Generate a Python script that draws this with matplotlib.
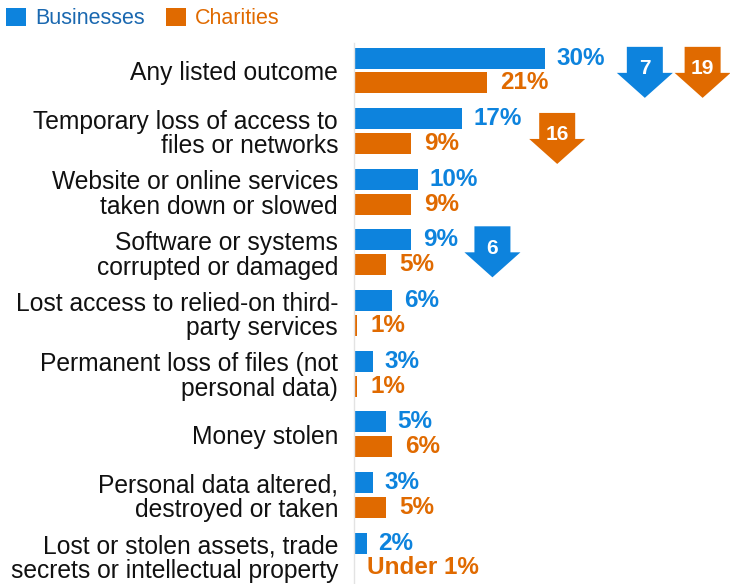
import matplotlib
matplotlib.use("Agg")
import matplotlib.pyplot as plt
from matplotlib.patches import Polygon
import numpy as np

categories = [
    "Any listed outcome",
    "Temporary loss of access to\nfiles or networks",
    "Website or online services\ntaken down or slowed",
    "Software or systems\ncorrupted or damaged",
    "Lost access to relied-on third-\nparty services",
    "Permanent loss of files (not\npersonal data)",
    "Money stolen",
    "Personal data altered,\ndestroyed or taken",
    "Lost or stolen assets, trade\nsecrets or intellectual property",
]
businesses = [30, 17, 10, 9, 6, 3, 5, 3, 2]
charities = [21, 9, 9, 5, 0.5, 0.5, 6, 5, 0]
business_labels = ["30%", "17%", "10%", "9%", "6%", "3%", "5%", "3%", "2%"]
charity_labels = ["21%", "9%", "9%", "5%", "1%", "1%", "6%", "5%", "Under 1%"]

# change markers: (row index, series, number, x position in %, top offset in rows)
arrows = [
    (0, "Businesses", "7", 45.8, -0.39),
    (0, "Charities", "19", 54.9, -0.39),
    (1, "Charities", "16", 32.0, -0.30),
    (3, "Businesses", "6", 21.8, -0.43),
]

BLUE = "#0D83DD"
ORANGE = "#E06A00"
LEG_BLUE = "#1A68B0"
FONT = "Liberation Sans"

fig = plt.figure(figsize=(7.3, 5.84), dpi=100)
ax = fig.add_axes([354 / 730, 0, 1 - 354 / 730, 544 / 584])

y = np.arange(len(categories))
off = 0.205
h = 0.345
bb = ax.barh(y - off, businesses, height=h, color=BLUE, label="Businesses")
bc = ax.barh(y + off, charities, height=h, color=ORANGE, label="Charities")

px_per_unit = 6.35
ax.set_xlim(0, (730 - 354) / px_per_unit)
ax.set_ylim(8.47, -0.503)

for i in range(len(categories)):
    ax.annotate(business_labels[i], (businesses[i], y[i] - off), xytext=(8.5, 0),
                textcoords="offset points", va="center", ha="left",
                color=BLUE, fontsize=17.5, fontweight="bold", family=FONT)
    ax.annotate(charity_labels[i], (charities[i], y[i] + off), xytext=(9.5, 0),
                textcoords="offset points", va="center", ha="left",
                color=ORANGE, fontsize=17.5, fontweight="bold", family=FONT)

shaft_hw = 18 / px_per_unit
head_hw = 28 / px_per_unit
shaft_h = 26 / 60.6
total_h = 51 / 60.6
for row, series, num, xc, top in arrows:
    col = BLUE if series == "Businesses" else ORANGE
    t = row + top
    verts = [
        (xc - shaft_hw, t), (xc + shaft_hw, t), (xc + shaft_hw, t + shaft_h),
        (xc + head_hw, t + shaft_h), (xc, t + total_h), (xc - head_hw, t + shaft_h),
        (xc - shaft_hw, t + shaft_h),
    ]
    ax.add_patch(Polygon(verts, closed=True, facecolor=col, edgecolor="none", clip_on=False))
    ax.text(xc, t + 0.36, num, ha="center", va="center", color="white",
            fontsize=15, fontweight="bold", family=FONT, clip_on=False)

ax.set_yticks(y)
ax.set_yticklabels(categories, fontsize=17.7, family=FONT, color="#111111",
                   linespacing=1.04)
ax.tick_params(axis="y", length=0, pad=11.5)
ax.set_xticks([])
for s in ["top", "right", "bottom"]:
    ax.spines[s].set_visible(False)
ax.spines["left"].set_color("#e3e3e3")
ax.spines["left"].set_linewidth(1)
ax.spines["left"].set_bounds(8.45, -0.45)

leg = fig.legend(handles=[bb, bc], loc="upper left", bbox_to_anchor=(-0.001, 0.998),
                 ncol=2, frameon=False, prop={"family": FONT, "size": 15.5},
                 handlelength=0.93, handleheight=0.93, handletextpad=0.42,
                 columnspacing=1.0, borderpad=0.3, borderaxespad=0,
                 labelcolor=[LEG_BLUE, ORANGE])

fig.savefig("out.png", dpi=100)
